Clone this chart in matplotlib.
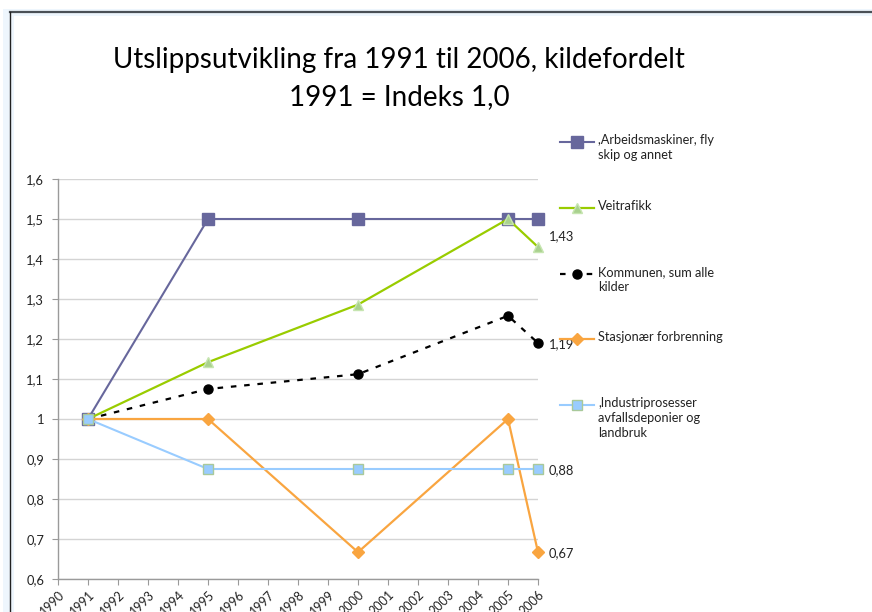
import matplotlib
matplotlib.use("Agg")
import matplotlib.pyplot as plt
from matplotlib.lines import Line2D
from matplotlib.patches import Rectangle

# Data (index, 1991 = 1.0)
years = [1991, 1995, 2000, 2005, 2006]
arbeid = [1.0, 1.5, 1.5, 1.5, 1.5]
veitrafikk = [1.0, 1.142, 1.286, 1.5, 1.43]
kommunen = [1.0, 1.075, 1.112, 1.258, 1.19]
stasjonaer = [1.0, 1.0, 0.667, 1.0, 0.667]
industri = [1.0, 0.875, 0.875, 0.875, 0.875]

year_ticks = list(range(1990, 2007))
y_ticks = [0.6, 0.7, 0.8, 0.9, 1.0, 1.1, 1.2, 1.3, 1.4, 1.5, 1.6]

legend_labels = [
    ",Arbeidsmaskiner, fly\nskip og annet",
    "Veitrafikk",
    "Kommunen, sum alle\nkilder",
    "Stasjonær forbrenning",
    ",Industriprosesser\navfallsdeponier og\nlandbruk",
]

W, H = 872, 612
plt.rcParams['font.family'] = ['Lato', 'DejaVu Sans']
fig = plt.figure(figsize=(W / 100, H / 100), dpi=100, facecolor='white')


def fx(x):
    return x / W


def fy(y):
    return 1 - y / H


# outer frame (screenshot style border)
fig.add_artist(Rectangle((fx(3), 0), 1, fy(9), transform=fig.transFigure,
                         facecolor='#eef6fd', edgecolor='none', zorder=0))
fig.add_artist(Rectangle((fx(14), 0), 1, fy(16), transform=fig.transFigure,
                         facecolor='white', edgecolor='none', zorder=0))
fig.add_artist(Line2D([fx(10), 1], [fy(12), fy(12)], transform=fig.transFigure,
                      color='#4a5056', lw=1.6, zorder=1))
fig.add_artist(Line2D([fx(10), fx(10)], [fy(12), 0], transform=fig.transFigure,
                      color='#222222', lw=1.0, zorder=1))

ax = fig.add_axes([fx(58), fy(579), fx(538) - fx(58), fy(179) - fy(579)])
ax.set_facecolor('none')

purple = '#67679c'
green = '#99cc00'
orange = '#f9a540'
blue = '#99ccff'

ax.plot(years, arbeid, color=purple, lw=1.5, marker='s', markersize=8.5,
        markerfacecolor=purple, markeredgecolor=purple, zorder=3, clip_on=False)
ax.plot(years, veitrafikk, color=green, lw=1.6, marker='^', markersize=7.5,
        markerfacecolor='#a9d18e', markeredgecolor='#c6e5b0', zorder=4,
        clip_on=False)
ax.plot(years, kommunen, color='black', lw=1.6, linestyle=(0, (2.5, 3.5)),
        marker='o', markersize=6.5, markerfacecolor='black',
        markeredgecolor='black', zorder=5, clip_on=False)
ax.plot(years, stasjonaer, color=orange, lw=1.6, marker='D', markersize=6,
        markerfacecolor=orange, markeredgecolor=orange, zorder=4, clip_on=False)
ax.plot(years, industri, color=blue, lw=1.5, marker='s', markersize=7,
        markerfacecolor=blue, markeredgecolor='#a9c99a', zorder=6,
        clip_on=False)

# data labels at last point
for series, txt in [(veitrafikk, '1,43'), (kommunen, '1,19'),
                    (industri, '0,88'), (stasjonaer, '0,67')]:
    dy = 7.5 if txt == '1,43' else -1
    ax.annotate(txt, (years[-1], series[-1]), xytext=(7.5, dy),
                textcoords='offset points', fontsize=9.3, color='#222222',
                va='center', ha='left', annotation_clip=False)

ax.set_xlim(1990, 2006)
ax.set_ylim(0.6, 1.6)
ax.set_xticks(year_ticks)
ax.set_xticklabels([str(y) for y in year_ticks], rotation=45, ha='right',
                   va='top', rotation_mode='anchor', fontsize=9,
                   color='#222222')
ax.set_yticks(y_ticks)
ax.set_yticklabels([f"{v:g}".replace('.', ',') for v in y_ticks],
                   fontsize=9.3, color='#222222')
ax.tick_params(axis='x', length=4, color='#9a9a9a', pad=3)
ax.tick_params(axis='y', length=4, color='#9a9a9a', pad=6)
ax.grid(axis='y', color='#d4d4d4', lw=1.0)
ax.set_axisbelow(True)
for s in ['top', 'right']:
    ax.spines[s].set_visible(False)
for s in ['left', 'bottom']:
    ax.spines[s].set_color('#9a9a9a')
    ax.spines[s].set_linewidth(1.0)

# title
fig.text(fx(399), fy(60), "Utslippsutvikling fra 1991 til 2006, kildefordelt",
         ha='center', va='center', fontsize=20, color='black')
fig.text(fx(399), fy(97), "1991 = Indeks 1,0",
         ha='center', va='center', fontsize=20, color='black')

# legend (manual, right side)
styles = [
    dict(color=purple, marker='s', markersize=8.5, markerfacecolor=purple,
         markeredgecolor=purple, lw=1.5),
    dict(color=green, marker='^', markersize=7, markerfacecolor='#a9d18e',
         markeredgecolor='#c6e5b0', lw=1.6),
    dict(color='black', marker='o', markersize=6.5, markerfacecolor='black',
         markeredgecolor='black', lw=1.6, linestyle=(0, (2.5, 3.5))),
    dict(color=orange, marker='D', markersize=6, markerfacecolor=orange,
         markeredgecolor=orange, lw=1.6),
    dict(color=blue, marker='s', markersize=7, markerfacecolor=blue,
         markeredgecolor='#a9c99a', lw=1.5),
]
entry_y = [142, 208, 274, 339, 405]
for yy, lab, st in zip(entry_y, legend_labels, styles):
    marker_kw = {k: v for k, v in st.items() if k.startswith('marker')}
    line_kw = {k: v for k, v in st.items() if not k.startswith('marker')}
    fig.add_artist(Line2D([fx(560), fx(594)], [fy(yy), fy(yy)],
                          transform=fig.transFigure, **line_kw))
    fig.add_artist(Line2D([fx(577)], [fy(yy)], transform=fig.transFigure,
                          linestyle='none', **marker_kw))
    fig.text(fx(598), fy(yy - 8), lab, ha='left', va='top', fontsize=9.2,
             color='#222222', linespacing=1.3)

fig.savefig('out.png', dpi=100, facecolor='white')
